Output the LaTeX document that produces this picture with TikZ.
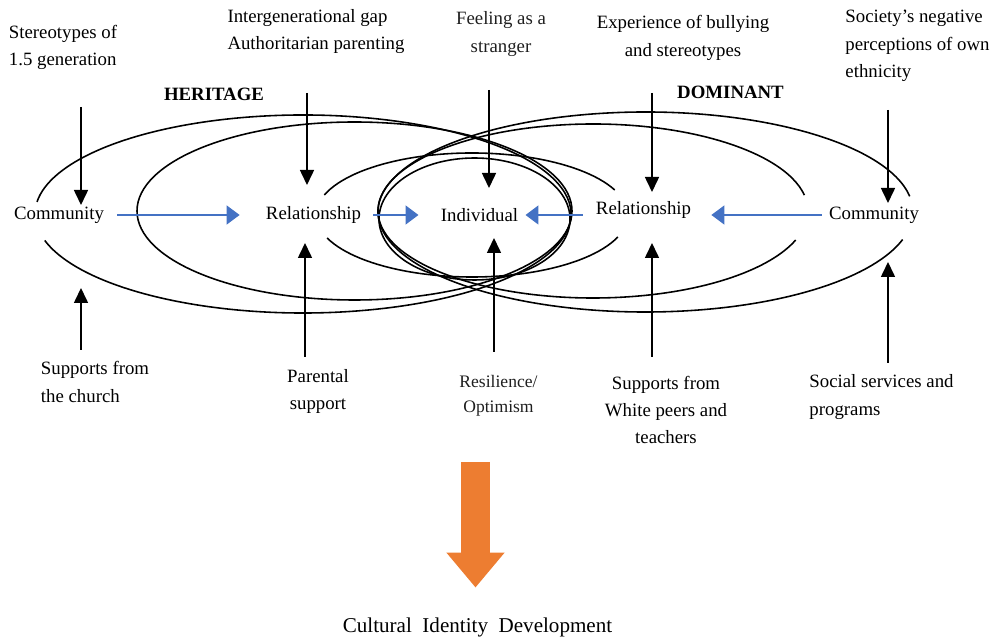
\documentclass[tikz,border=0pt]{standalone}
\usepackage{fontspec}
\setmainfont{Liberation Serif}
\usetikzlibrary{arrows.meta}
\definecolor{arrowblue}{RGB}{68,114,196}
\definecolor{arroworange}{RGB}{237,125,49}
\tikzset{
	ring/.style={line width=0.9pt},
	txt/.style={inner sep=0pt, font=\fontsize{10.7}{15.5}\selectfont},
	influence/.style={line width=0.9pt, -{Triangle[length=0.30cm,width=0.28cm]}},
	flow/.style={arrowblue, line width=0.9pt, -{Triangle[length=0.26cm,width=0.38cm]}}
}
\begin{document}
\begin{tikzpicture}[scale=1]
		\useasboundingbox (0,0) rectangle (19.94,-12.8);
		% heritage rings (left) and dominant rings (right)
		\draw[ring] ([shift={(-164.5:5.36cm and 1.98cm)}]6.06,-4.28) arc[start angle=-164.5,end angle=173,x radius=5.36cm,y radius=1.98cm];
		\draw[ring] (7.09,-4.22) ellipse [x radius=4.35cm,y radius=1.78cm];
		\draw[ring] ([shift={(9:5.35cm and 2cm)}]12.91,-4.24) arc[start angle=9,end angle=344,x radius=5.35cm,y radius=2cm];
		\draw[ring] ([shift={(10.5:4.30cm and 1.74cm)}]11.86,-4.22) arc[start angle=10.5,end angle=340.5,x radius=4.30cm,y radius=1.74cm];
		\draw[ring] ([shift={(23.8:3.12cm and 1.24cm)}]9.44,-4.30) arc[start angle=23.8,end angle=161.2,x radius=3.12cm,y radius=1.24cm];
		\draw[ring] ([shift={(201.8:3.12cm and 1.24cm)}]9.44,-4.30) arc[start angle=201.8,end angle=339.2,x radius=3.12cm,y radius=1.24cm];
		\draw[ring] (9.49,-4.38) ellipse [x radius=1.91cm,y radius=1.22cm];
		% levels
		\node[txt] (comL) at (1.18,-4.30) {Community};
		\node[txt] (relL) at (6.27,-4.30) {Relationship};
		\node[txt] (ind) at (9.59,-4.30) {Individual};
		\node[txt] (relR) at (12.87,-4.20) {Relationship};
		\node[txt] (comR) at (17.48,-4.30) {Community};
		\node[txt, font=\fontsize{10.7}{15.5}\selectfont\bfseries] (heritage) at (4.28,-1.88) {HERITAGE};
		\node[txt, font=\fontsize{10.7}{15.5}\selectfont\bfseries] (dominant) at (14.61,-1.84) {DOMINANT};
		% risks
		\node[txt, align=left] (stereo) at (1.26,-0.95) {Stereotypes of\\1.5 generation};
		\node[txt, align=left] (gap) at (6.32,-0.63) {Intergenerational gap\\Authoritarian parenting};
		\node[txt, align=center, text=black!88] (stranger) at (10.02,-0.68) {Feeling as a\\stranger};
		\node[txt, align=center] (bully) at (13.66,-0.76) {Experience of bullying\\and stereotypes};
		\node[txt, align=left] (society) at (18.35,-0.92) {Society's negative\\perceptions of own\\ethnicity};
		% supports
		\node[txt, align=left] (church) at (1.90,-7.64) {Supports from\\the church};
		\node[txt, align=center] (parent) at (6.36,-7.83) {Parental\\support};
		\node[txt, align=center, text=black!88, font=\fontsize{10}{14}\selectfont] (resil) at (9.97,-7.92) {Resilience/\\Optimism};
		\node[txt, align=center] (peers) at (13.32,-8.20) {Supports from\\White peers and\\teachers};
		\node[txt, align=left] (services) at (17.63,-7.94) {Social services and\\programs};
		\node[txt, font=\fontsize{12}{14}\selectfont] (cid) at (9.55,-12.54) {Cultural\hspace{6pt}Identity\hspace{6pt}Development};
		% arrow ends
		\coordinate (stereoA) at (1.62,-2.14); \coordinate (stereoB) at (1.62,-4.10);
		\coordinate (gapA) at (6.14,-1.86); \coordinate (gapB) at (6.14,-3.70);
		\coordinate (strangerA) at (9.78,-1.80); \coordinate (strangerB) at (9.78,-3.76);
		\coordinate (bullyA) at (13.04,-1.86); \coordinate (bullyB) at (13.04,-3.84);
		\coordinate (societyA) at (17.76,-2.20); \coordinate (societyB) at (17.76,-4.06);
		\coordinate (churchA) at (1.62,-7.00); \coordinate (churchB) at (1.62,-5.76);
		\coordinate (parentA) at (6.10,-7.14); \coordinate (parentB) at (6.10,-4.86);
		\coordinate (resilA) at (9.88,-7.04); \coordinate (resilB) at (9.88,-4.76);
		\coordinate (peersA) at (13.04,-7.14); \coordinate (peersB) at (13.04,-4.86);
		\coordinate (servicesA) at (17.76,-7.26); \coordinate (servicesB) at (17.76,-5.24);
		\coordinate (outTop) at (9.51,-9.24);
		\draw[influence] (stereoA) -- (stereoB);
		\draw[influence] (gapA) -- (gapB);
		\draw[influence] (strangerA) -- (strangerB);
		\draw[influence] (bullyA) -- (bullyB);
		\draw[influence] (societyA) -- (societyB);
		\draw[influence] (churchA) -- (churchB);
		\draw[influence] (parentA) -- (parentB);
		\draw[influence] (resilA) -- (resilB);
		\draw[influence] (peersA) -- (peersB);
		\draw[influence] (servicesA) -- (servicesB);
		% flows towards the individual
		\draw[flow, shorten <=0.26cm, shorten >=0.52cm] (comL) -- (relL);
		\draw[flow, shorten <=0.24cm, shorten >=0.44cm] (relL) -- (ind);
		\draw[flow, shorten <=0.26cm, shorten >=0.14cm] (relR.west |- ind.east) -- (ind.east);
		\draw[flow, shorten <=0.14cm, shorten >=0.40cm] (comR.west) -- (comR.west -| relR.east);
		\draw[arroworange, line width=0.58cm, -{Triangle[length=0.70cm,width=1.12cm]}, shorten >=0.59cm] (outTop) -- (outTop |- cid.north);
	\end{tikzpicture}
\end{document}
